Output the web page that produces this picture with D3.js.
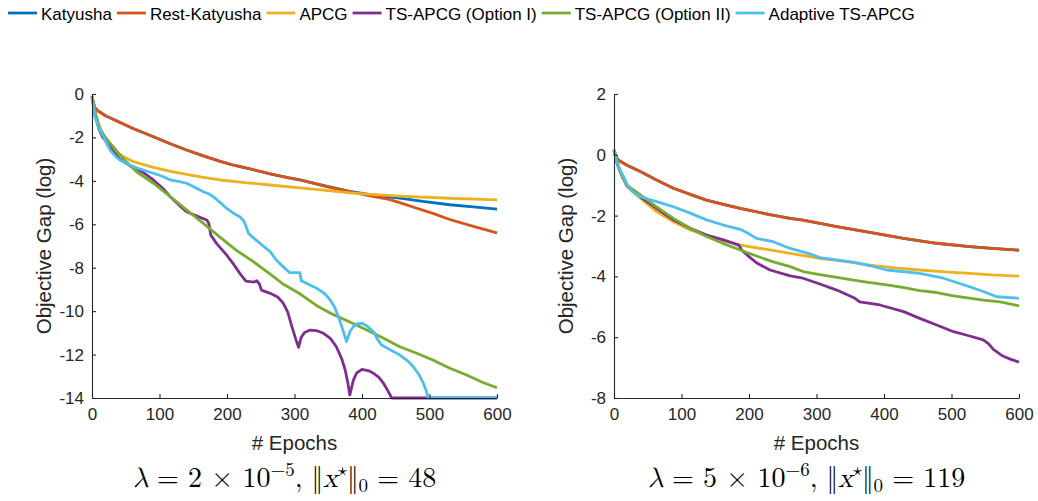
<!DOCTYPE html>
<html>
<head>
<meta charset="utf-8">
<script src="https://cdn.jsdelivr.net/npm/d3@7/dist/d3.min.js"></script>
<style>
  html, body { margin: 0; padding: 0; background: #fff; }
  svg { display: block; }
</style>
</head>
<body>
<svg id="chart" width="1038" height="501"></svg>
<script>
// ---- series names (legend order = draw order) ----
const seriesNames = ["Katyusha", "Rest-Katyusha", "APCG", "TS-APCG (Option I)", "TS-APCG (Option II)", "Adaptive TS-APCG"];

// ---- panel 1: lambda = 2e-5 ; [epoch, log objective gap] ----
const leftKatyusha = [[0,-0.15],[4,-0.62],[8,-0.76],[20,-1.0],[41,-1.3],[60,-1.58],[91,-1.97],[115,-2.28],[140,-2.58],[165,-2.85],[190,-3.1],[210,-3.28],[234,-3.45],[264,-3.68],[290,-3.85],[308,-3.95],[330,-4.12],[355,-4.3],[382,-4.48],[410,-4.62],[430,-4.7],[456,-4.8],[490,-4.95],[530,-5.1],[565,-5.2],[600,-5.3]];
const leftRestKatyusha = [[0,-0.15],[4,-0.62],[8,-0.76],[20,-1.0],[41,-1.3],[60,-1.58],[91,-1.97],[115,-2.28],[140,-2.58],[165,-2.85],[190,-3.1],[210,-3.28],[234,-3.45],[264,-3.68],[290,-3.85],[308,-3.95],[330,-4.13],[355,-4.32],[382,-4.5],[410,-4.68],[440,-4.85],[456,-5.0],[480,-5.25],[505,-5.5],[530,-5.78],[565,-6.1],[600,-6.4]];
const leftAPCG = [[0,-0.1],[5,-0.9],[10,-1.4],[18,-1.95],[27,-2.4],[41,-2.8],[60,-3.1],[91,-3.38],[115,-3.55],[140,-3.7],[165,-3.84],[190,-3.96],[234,-4.1],[264,-4.19],[308,-4.32],[350,-4.45],[382,-4.55],[420,-4.63],[456,-4.7],[530,-4.8],[600,-4.88]];
const leftOptionI = [[0,-0.1],[5,-1.0],[10,-1.6],[16,-2.0],[22,-2.2],[30,-2.6],[41,-3.0],[56,-3.3],[75,-3.6],[91,-3.96],[105,-4.35],[116,-4.73],[130,-5.15],[140,-5.42],[150,-5.55],[160,-5.68],[170,-5.8],[173,-5.95],[176,-6.5],[185,-6.9],[199,-7.4],[210,-7.85],[219,-8.26],[228,-8.62],[240,-8.66],[244,-8.6],[248,-8.75],[251,-9.03],[264,-9.18],[275,-9.35],[283,-9.62],[290,-10.05],[296,-10.7],[302,-11.3],[306,-11.67],[310,-11.2],[315,-10.98],[323,-10.87],[333,-10.9],[343,-11.02],[353,-11.25],[362,-11.64],[370,-12.2],[375,-12.7],[379,-13.3],[382,-13.86],[387,-13.2],[392,-12.85],[400,-12.68],[410,-12.75],[417,-12.86],[425,-13.05],[432,-13.33],[438,-13.65],[444,-14],[600,-14]];
const leftOptionII = [[0,-0.1],[5,-0.9],[12,-1.66],[20,-2.0],[27,-2.27],[40,-2.75],[50,-3.1],[66,-3.58],[91,-4.11],[116,-4.73],[140,-5.34],[165,-5.96],[190,-6.6],[214,-7.2],[239,-7.72],[264,-8.3],[283,-8.75],[308,-9.2],[333,-9.75],[357,-10.15],[382,-10.5],[407,-10.87],[432,-11.25],[456,-11.64],[481,-11.94],[505,-12.25],[530,-12.63],[555,-12.94],[580,-13.3],[600,-13.53]];
const leftAdaptive = [[0,-0.1],[4,-1.04],[10,-1.55],[17,-1.96],[22,-2.3],[27,-2.58],[35,-2.88],[41,-3.04],[56,-3.27],[70,-3.45],[91,-3.65],[105,-3.8],[116,-3.96],[128,-4.02],[140,-4.11],[152,-4.3],[165,-4.5],[172,-4.58],[180,-4.73],[190,-5.0],[199,-5.26],[210,-5.5],[219,-5.65],[225,-5.85],[232,-6.42],[240,-6.65],[249,-6.88],[264,-7.26],[273,-7.65],[283,-7.95],[293,-8.23],[308,-8.23],[310,-8.6],[322,-8.78],[333,-8.95],[345,-9.2],[353,-9.49],[360,-9.85],[365,-10.26],[371,-10.8],[377,-11.4],[382,-10.95],[387,-10.72],[393,-10.58],[400,-10.56],[408,-10.7],[417,-10.95],[423,-11.3],[429,-11.56],[440,-11.75],[456,-12.02],[468,-12.3],[476,-12.56],[484,-12.9],[491,-13.33],[495,-13.65],[498,-14],[600,-14]];

// ---- panel 2: lambda = 5e-6 ----
const rightKatyusha = [[0,0.15],[3,-0.05],[6,-0.17],[20,-0.35],[39,-0.55],[63,-0.83],[88,-1.1],[113,-1.3],[137,-1.49],[162,-1.63],[187,-1.76],[231,-1.97],[261,-2.09],[280,-2.15],[330,-2.36],[379,-2.55],[429,-2.75],[478,-2.91],[527,-3.02],[560,-3.08],[600,-3.14]];
const rightRestKatyusha = [[0,0.15],[3,-0.05],[6,-0.17],[20,-0.35],[39,-0.55],[63,-0.83],[88,-1.1],[113,-1.3],[137,-1.49],[162,-1.63],[187,-1.76],[231,-1.97],[261,-2.09],[280,-2.15],[330,-2.36],[379,-2.55],[429,-2.75],[478,-2.91],[527,-3.02],[560,-3.08],[600,-3.14]];
const rightAPCG = [[0,0.15],[5,-0.3],[10,-0.6],[19,-1.05],[39,-1.43],[63,-1.87],[88,-2.2],[113,-2.47],[137,-2.64],[162,-2.82],[187,-2.97],[231,-3.13],[261,-3.24],[305,-3.41],[350,-3.53],[379,-3.63],[420,-3.73],[453,-3.79],[490,-3.85],[527,-3.9],[560,-3.95],[600,-3.99]];
const rightOptionI = [[0,0.15],[5,-0.3],[10,-0.6],[19,-1.0],[39,-1.38],[63,-1.76],[88,-2.14],[113,-2.42],[137,-2.64],[162,-2.8],[185,-2.97],[189,-3.13],[200,-3.35],[211,-3.55],[231,-3.79],[261,-3.98],[280,-4.06],[305,-4.25],[330,-4.45],[357,-4.72],[364,-4.84],[394,-4.94],[429,-5.16],[453,-5.38],[478,-5.6],[503,-5.82],[527,-5.96],[547,-6.09],[555,-6.22],[562,-6.4],[576,-6.62],[588,-6.73],[600,-6.82]];
const rightOptionII = [[0,0.15],[5,-0.3],[10,-0.6],[19,-1.0],[39,-1.32],[63,-1.71],[88,-2.09],[113,-2.42],[137,-2.69],[162,-2.92],[187,-3.13],[211,-3.33],[236,-3.52],[261,-3.68],[280,-3.84],[305,-3.94],[330,-4.03],[369,-4.17],[404,-4.28],[430,-4.37],[453,-4.47],[478,-4.53],[503,-4.64],[547,-4.78],[572,-4.84],[600,-4.97]];
const rightAdaptive = [[0,0.18],[5,-0.3],[14,-0.72],[21,-1.05],[30,-1.25],[39,-1.38],[63,-1.54],[88,-1.71],[113,-1.92],[137,-2.14],[162,-2.31],[187,-2.45],[200,-2.6],[211,-2.75],[236,-2.86],[261,-3.08],[290,-3.26],[305,-3.38],[354,-3.53],[380,-3.65],[404,-3.79],[453,-3.9],[488,-4.06],[527,-4.34],[550,-4.52],[567,-4.67],[600,-4.72]];

// ---- ticks and captions ----
const xTicks = [0, 100, 200, 300, 400, 500, 600];
const leftYTicks = [0, -2, -4, -6, -8, -10, -12, -14];
const rightYTicks = [2, 0, -2, -4, -6, -8];
const leftDomainY = [-14, 0];
const rightDomainY = [-8, 2];
const leftCaption = {lam: "2", exp: "−5", nnz: "48"};
const rightCaption = {lam: "5", exp: "−6", nnz: "119"};

// ---- styling ----
const colors = ["#0072BD", "#D95319", "#EDB120", "#7E2F8E", "#77AC30", "#4DBEEE"];
const sansFont = "'Liberation Sans', Arial, Helvetica, sans-serif";
const serifFont = "'Latin Modern Math', 'Liberation Serif', 'DejaVu Serif', serif";
const axisColor = "#262626";

const svg = d3.select("#chart");
svg.append("rect").attr("width", 1038).attr("height", 501).attr("fill", "#fff");

function drawPanel(opts) {
  const {left, right, top, bottom, yDomain, yTicks, series, caption} = opts;
  const x = d3.scaleLinear().domain([0, 600]).range([left, right]);
  const y = d3.scaleLinear().domain(yDomain).range([bottom, top]);
  const g = svg.append("g");

  // lines
  const line = d3.line().x(d => x(d[0])).y(d => y(d[1])).curve(d3.curveLinear);
  series.forEach((s, i) => {
    g.append("path")
      .datum(s)
      .attr("d", line)
      .attr("fill", "none")
      .attr("stroke", colors[i])
      .attr("stroke-width", 2.8)
      .attr("stroke-linejoin", "round")
      .attr("stroke-linecap", "butt");
  });

  // axes (ticks point inward)
  const xAxis = d3.axisBottom(x).tickValues(xTicks).tickSizeInner(-4).tickSizeOuter(0).tickPadding(10);
  const yAxis = d3.axisLeft(y).tickValues(yTicks).tickSizeInner(-4).tickSizeOuter(0).tickPadding(8);
  const gx = g.append("g").attr("transform", `translate(0,${bottom})`).call(xAxis);
  const gy = g.append("g").attr("transform", `translate(${left},0)`).call(yAxis);
  [gx, gy].forEach(a => {
    a.select(".domain").attr("stroke", axisColor).attr("stroke-width", 1.1);
    a.selectAll(".tick line").attr("stroke", axisColor).attr("stroke-width", 1.1);
    a.selectAll(".tick text").attr("fill", axisColor).attr("font-family", sansFont).attr("font-size", 17);
  });
  gy.selectAll(".tick text").text(d => d < 0 ? "-" + Math.abs(d) : d);

  // axis titles
  g.append("text")
    .attr("x", (left + right) / 2).attr("y", bottom + 52)
    .attr("text-anchor", "middle")
    .attr("font-family", sansFont).attr("font-size", 20.5).attr("fill", axisColor)
    .text("# Epochs");
  g.append("text")
    .attr("transform", `translate(${left - 41},${(top + bottom) / 2}) rotate(-90)`)
    .attr("text-anchor", "middle")
    .attr("font-family", sansFont).attr("font-size", 20.5).attr("fill", axisColor)
    .text("Objective Gap (log)");

  // caption
  const cap = g.append("text")
    .attr("x", (left + right) / 2 - 10).attr("y", 487)
    .attr("text-anchor", "middle")
    .attr("font-family", serifFont).attr("font-size", 28).attr("fill", "#000");
  cap.append("tspan").attr("font-style", "italic").text("λ");
  cap.append("tspan").text(" = " + caption.lam + " × 10");
  cap.append("tspan").attr("dy", -11).attr("font-size", 19).text(caption.exp);
  cap.append("tspan").attr("dy", 11).text(", ‖");
  cap.append("tspan").attr("font-style", "italic").text("x");
  cap.append("tspan").attr("dy", -11).attr("font-size", 19).text("⋆");
  cap.append("tspan").attr("dy", 11).text("‖");
  cap.append("tspan").attr("dy", 5).attr("font-size", 19).text("0");
  cap.append("tspan").attr("dy", -5).text(" = " + caption.nnz);
}

drawPanel({
  left: 92, right: 497, top: 94, bottom: 398,
  yDomain: leftDomainY, yTicks: leftYTicks,
  series: [leftKatyusha, leftRestKatyusha, leftAPCG, leftOptionI, leftOptionII, leftAdaptive],
  caption: leftCaption
});
drawPanel({
  left: 614, right: 1019, top: 94, bottom: 398,
  yDomain: rightDomainY, yTicks: rightYTicks,
  series: [rightKatyusha, rightRestKatyusha, rightAPCG, rightOptionI, rightOptionII, rightAdaptive],
  caption: rightCaption
});

// legend across the top
const legend = svg.append("g");
let lx = 8;
seriesNames.forEach((name, i) => {
  legend.append("line")
    .attr("x1", lx).attr("x2", lx + 29).attr("y1", 13).attr("y2", 13)
    .attr("stroke", colors[i]).attr("stroke-width", 2.8);
  const t = legend.append("text")
    .attr("x", lx + 33).attr("y", 19.5)
    .attr("font-family", sansFont).attr("font-size", 17).attr("fill", "#000")
    .text(name);
  lx += 33 + t.node().getComputedTextLength() + 5;
});
</script>
</body>
</html>
